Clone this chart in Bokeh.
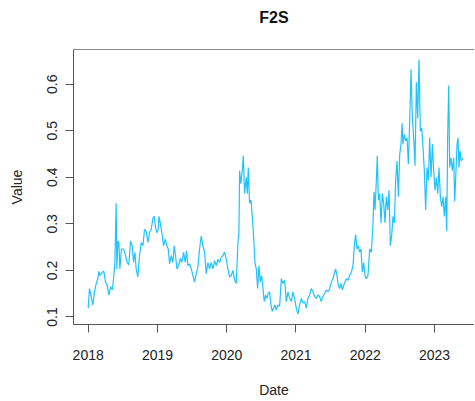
from bokeh.plotting import figure
from bokeh.models import LinearAxis, FixedTicker, Range1d
from bokeh.embed import file_html
from bokeh.resources import INLINE

# Data (decimal year, value)
dates = [
    2018.000, 2018.019, 2018.043, 2018.067, 2018.091, 2018.116, 2018.140, 2018.154, 2018.173, 2018.202,
    2018.226, 2018.250, 2018.274, 2018.299, 2018.323, 2018.347, 2018.366, 2018.385, 2018.404, 2018.414,
    2018.429, 2018.443, 2018.457, 2018.481, 2018.510, 2018.539, 2018.563, 2018.587, 2018.611, 2018.636,
    2018.655, 2018.674, 2018.693, 2018.717, 2018.741, 2018.766, 2018.790, 2018.814, 2018.838, 2018.862,
    2018.886, 2018.910, 2018.934, 2018.953, 2018.973, 2018.992, 2019.011, 2019.021, 2019.040, 2019.064,
    2019.088, 2019.112, 2019.136, 2019.156, 2019.175, 2019.199, 2019.223, 2019.242, 2019.261, 2019.281,
    2019.305, 2019.329, 2019.353, 2019.377, 2019.401, 2019.420, 2019.440, 2019.464, 2019.488, 2019.512,
    2019.536, 2019.560, 2019.584, 2019.608, 2019.632, 2019.656, 2019.680, 2019.704, 2019.728, 2019.753,
    2019.777, 2019.801, 2019.825, 2019.849, 2019.873, 2019.897, 2019.921, 2019.945, 2019.969, 2019.993,
    2020.017, 2020.041, 2020.065, 2020.090, 2020.114, 2020.138, 2020.162, 2020.176, 2020.186, 2020.205,
    2020.224, 2020.239, 2020.258, 2020.282, 2020.297, 2020.311, 2020.330, 2020.350, 2020.369, 2020.388,
    2020.407, 2020.427, 2020.446, 2020.465, 2020.484, 2020.504, 2020.523, 2020.542, 2020.561, 2020.581,
    2020.600, 2020.619, 2020.638, 2020.658, 2020.677, 2020.696, 2020.715, 2020.740, 2020.764, 2020.788,
    2020.812, 2020.836, 2020.860, 2020.884, 2020.908, 2020.932, 2020.956, 2020.980, 2021.004, 2021.028,
    2021.052, 2021.077, 2021.101, 2021.125, 2021.149, 2021.173, 2021.197, 2021.221, 2021.245, 2021.269,
    2021.293, 2021.317, 2021.341, 2021.365, 2021.389, 2021.414, 2021.438, 2021.462, 2021.486, 2021.510,
    2021.534, 2021.558, 2021.572, 2021.592, 2021.611, 2021.630, 2021.650, 2021.669, 2021.688, 2021.707,
    2021.727, 2021.751, 2021.775, 2021.799, 2021.823, 2021.842, 2021.861, 2021.881, 2021.900, 2021.919,
    2021.938, 2021.958, 2021.977, 2021.996, 2022.015, 2022.039, 2022.064, 2022.088, 2022.112, 2022.126,
    2022.141, 2022.160, 2022.174, 2022.189, 2022.208, 2022.227, 2022.247, 2022.266, 2022.285, 2022.304,
    2022.324, 2022.343, 2022.362, 2022.381, 2022.401, 2022.420, 2022.439, 2022.458, 2022.478, 2022.497,
    2022.516, 2022.531, 2022.545, 2022.564, 2022.584, 2022.603, 2022.622, 2022.641, 2022.661, 2022.680,
    2022.699, 2022.718, 2022.738, 2022.757, 2022.776, 2022.795, 2022.815, 2022.834, 2022.853, 2022.872,
    2022.892, 2022.911, 2022.930, 2022.949, 2022.969, 2022.988, 2023.007, 2023.026, 2023.046, 2023.065,
    2023.084, 2023.103, 2023.123, 2023.142, 2023.161, 2023.176, 2023.190, 2023.205, 2023.219, 2023.238,
    2023.258, 2023.277, 2023.291, 2023.306, 2023.325, 2023.339, 2023.354, 2023.368, 2023.387, 2023.412,
]
values = [
    0.119, 0.161, 0.144, 0.126, 0.154, 0.172, 0.182, 0.198, 0.189, 0.196,
    0.198, 0.175, 0.168, 0.147, 0.165, 0.158, 0.181, 0.217, 0.344, 0.203,
    0.263, 0.260, 0.203, 0.246, 0.246, 0.232, 0.217, 0.212, 0.263, 0.253,
    0.217, 0.239, 0.203, 0.186, 0.232, 0.260, 0.253, 0.288, 0.284, 0.260,
    0.281, 0.288, 0.312, 0.316, 0.291, 0.281, 0.288, 0.316, 0.302, 0.281,
    0.253, 0.267, 0.253, 0.246, 0.214, 0.232, 0.217, 0.253, 0.232, 0.203,
    0.210, 0.226, 0.217, 0.239, 0.217, 0.242, 0.210, 0.214, 0.203, 0.189,
    0.175, 0.193, 0.207, 0.246, 0.274, 0.253, 0.239, 0.193, 0.217, 0.203,
    0.217, 0.203, 0.221, 0.210, 0.224, 0.217, 0.228, 0.232, 0.239, 0.224,
    0.203, 0.186, 0.189, 0.200, 0.179, 0.172, 0.260, 0.281, 0.414, 0.386,
    0.414, 0.446, 0.365, 0.400, 0.365, 0.421, 0.344, 0.351, 0.316, 0.274,
    0.217, 0.203, 0.161, 0.210, 0.175, 0.189, 0.161, 0.133, 0.147, 0.140,
    0.151, 0.154, 0.126, 0.112, 0.119, 0.126, 0.115, 0.126, 0.123, 0.182,
    0.172, 0.179, 0.133, 0.154, 0.140, 0.133, 0.154, 0.140, 0.119, 0.106,
    0.126, 0.140, 0.130, 0.133, 0.119, 0.140, 0.147, 0.161, 0.154, 0.144,
    0.140, 0.147, 0.144, 0.133, 0.144, 0.151, 0.158, 0.154, 0.161, 0.175,
    0.182, 0.196, 0.203, 0.189, 0.168, 0.161, 0.172, 0.158, 0.168, 0.175,
    0.182, 0.179, 0.189, 0.196, 0.210, 0.253, 0.277, 0.246, 0.253, 0.239,
    0.246, 0.196, 0.217, 0.189, 0.182, 0.189, 0.246, 0.239, 0.302, 0.369,
    0.330, 0.393, 0.446, 0.351, 0.365, 0.302, 0.365, 0.344, 0.302, 0.358,
    0.330, 0.372, 0.253, 0.274, 0.316, 0.302, 0.393, 0.435, 0.358, 0.449,
    0.471, 0.516, 0.471, 0.492, 0.478, 0.485, 0.428, 0.520, 0.632, 0.527,
    0.485, 0.425, 0.604, 0.527, 0.653, 0.499, 0.506, 0.464, 0.414, 0.330,
    0.421, 0.393, 0.485, 0.400, 0.471, 0.414, 0.372, 0.400, 0.365, 0.421,
    0.358, 0.337, 0.358, 0.316, 0.358, 0.284, 0.492, 0.597, 0.421, 0.442,
    0.414, 0.442, 0.348, 0.400, 0.471, 0.485, 0.421, 0.457, 0.435, 0.442,
]
x_ticks = [2018, 2019, 2020, 2021, 2022, 2023]
y_ticks = [0.1, 0.2, 0.3, 0.4, 0.5, 0.6]
title_text = "F2S"

FONT = "Liberation Sans"
AXIS_COL = "#555555"

p = figure(
    title=None,
    width=474, height=400,
    output_backend="svg", toolbar_location=None,
    x_range=Range1d(2017.788, 2023.577),
    y_range=Range1d(0.0838, 0.6745),
    min_border_left=73, min_border_right=0,
    min_border_top=49, min_border_bottom=71,
    background_fill_color="white", border_fill_color="white",
)
p.outline_line_color = None
p.grid.visible = False

p.line(dates, values, line_color="#1EC3FF", line_width=1.2)

for ax in (p.xaxis[0], p.yaxis[0]):
    ax.axis_line_color = AXIS_COL
    ax.major_tick_line_color = AXIS_COL
    ax.minor_tick_line_color = None
    ax.major_tick_out = 8
    ax.major_tick_in = 0
    ax.major_label_text_font = FONT
    ax.major_label_text_font_size = "14px"
    ax.major_label_text_color = "#222222"
    ax.axis_label_text_font = FONT
    ax.axis_label_text_font_size = "14px"
    ax.axis_label_text_font_style = "normal"
    ax.axis_label_text_color = "#222222"

p.xaxis[0].ticker = FixedTicker(ticks=x_ticks)
p.xaxis[0].axis_label = "Date"
p.xaxis[0].major_label_standoff = 17
p.xaxis[0].axis_label_standoff = 19

p.yaxis[0].ticker = FixedTicker(ticks=y_ticks)
p.yaxis[0].axis_label = "Value"
p.yaxis[0].major_label_orientation = "vertical"
p.yaxis[0].major_label_standoff = 8
p.yaxis[0].axis_label_standoff = 20

# top border of the box; its axis label carries the chart title
top = LinearAxis(
    ticker=FixedTicker(ticks=[]),
    axis_line_color="#888888",
    major_tick_line_color=None, minor_tick_line_color=None,
    major_label_standoff=0, major_tick_out=0, major_tick_in=0,
    axis_label=title_text,
    axis_label_standoff=24,
    axis_label_text_font=FONT,
    axis_label_text_font_size="16px",
    axis_label_text_font_style="bold",
    axis_label_text_color="#111111",
)
p.add_layout(top, "above")

open("out.html", "w").write(file_html(p, INLINE))
